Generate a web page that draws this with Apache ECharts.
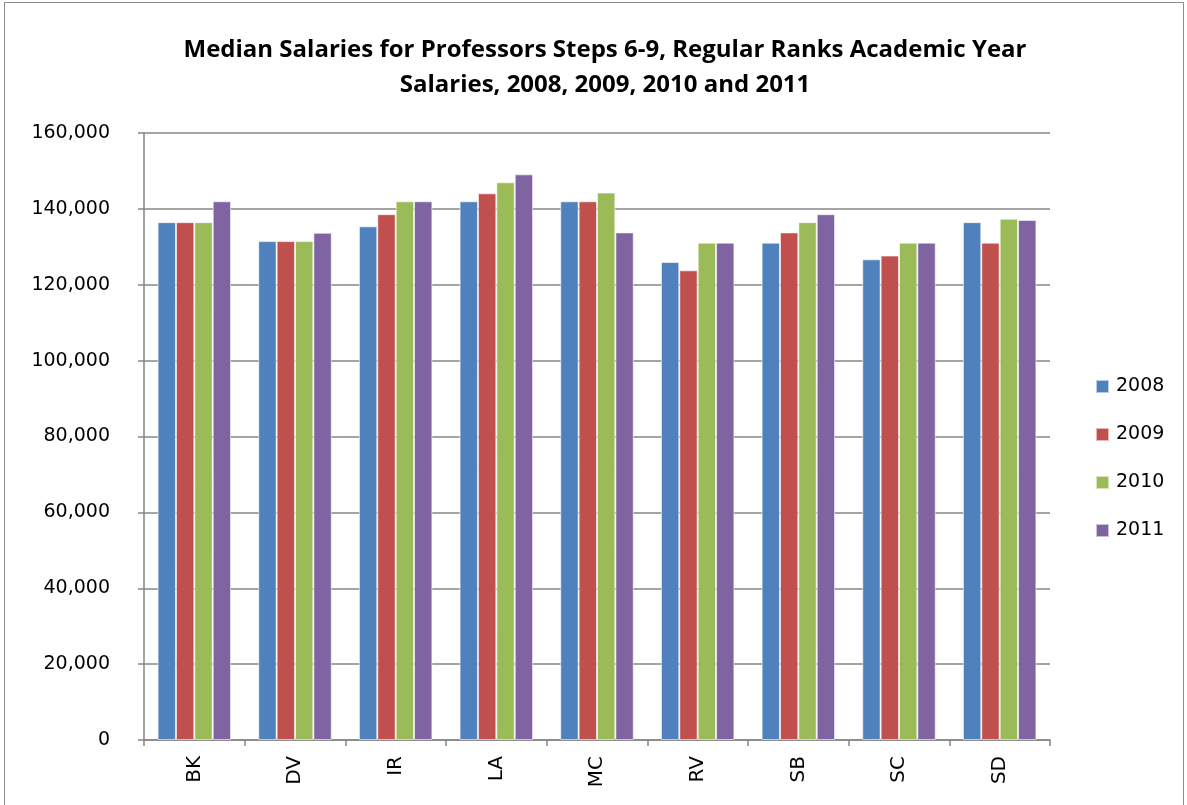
<!DOCTYPE html>
<html>
<head>
<meta charset="utf-8">
<script src="https://cdn.jsdelivr.net/npm/echarts@6/dist/echarts.min.js"></script>
<style>
	html, body { margin: 0; padding: 0; background: #fff; }
	#chart { position: absolute; left: 0; top: 0; width: 1187px; height: 805px; }
	#frame { position: absolute; left: 4px; top: 2px; width: 1180px; height: 810px; border: 1px solid #8c8c8c; box-sizing: border-box; }
</style>
</head>
<body>
<div id="frame"></div>
<div id="chart"></div>
<script>
	// campus codes on the x axis
	var campuses = ['BK', 'DV', 'IR', 'LA', 'MC', 'RV', 'SB', 'SC', 'SD']
	var years = ['2008', '2009', '2010', '2011']
	// median salaries
	var sal2008 = [136500, 131500, 135400, 142000, 142000, 126000, 131100, 126700, 136500]
	var sal2009 = [136500, 131500, 138600, 144100, 142000, 123800, 133800, 127700, 131100]
	var sal2010 = [136500, 131500, 142000, 147000, 144300, 131100, 136500, 131100, 137400]
	var sal2011 = [142000, 133700, 142000, 149100, 133800, 131100, 138600, 131100, 137100]

	var colors = ['#4F81BD', '#C0504D', '#9BBB59', '#8064A2']
	var allData = [sal2008, sal2009, sal2010, sal2011]

	var chart = echarts.init(document.getElementById('chart'))
	var option = {
		color: colors,
		animation: false,
		title: {
			text: 'Median Salaries for Professors Steps 6-9, Regular Ranks Academic Year\nSalaries, 2008, 2009, 2010 and 2011',
			left: 600,
			textAlign: 'center',
			top: 28,
			textStyle: {
				fontFamily: 'Open Sans',
				fontWeight: 'bold',
				fontSize: 24,
				lineHeight: 35,
				color: '#000'
			}
		},
		legend: {
			orient: 'vertical',
			left: 1090,
			top: 372,
			itemWidth: 13,
			itemHeight: 13,
			itemGap: 29,
			icon: 'rect',
			data: years,
			textStyle: {
				fontFamily: 'DejaVu Sans',
				fontSize: 19,
				color: '#000',
				padding: [0, 0, 0, 2]
			}
		},
		grid: {
			left: 144,
			right: 137,
			top: 133,
			bottom: 65,
			containLabel: false
		},
		xAxis: {
			type: 'category',
			data: campuses,
			axisLine: { lineStyle: { color: '#868686', width: 1.5 } },
			axisTick: { show: true, length: 6, lineStyle: { color: '#868686', width: 1.5 } },
			axisLabel: {
				rotate: 90,
				margin: 16,
				fontFamily: 'DejaVu Sans',
				fontSize: 20,
				color: '#000'
			}
		},
		yAxis: {
			type: 'value',
			min: 0,
			max: 160000,
			interval: 20000,
			axisLine: { show: true, lineStyle: { color: '#868686', width: 1.5 } },
			axisTick: { show: true, length: 6, lineStyle: { color: '#868686', width: 1.5 } },
			splitLine: { lineStyle: { color: '#868686', width: 1.5 } },
			axisLabel: {
				margin: 34,
				fontFamily: 'DejaVu Sans',
				fontSize: 19,
				color: '#000',
				formatter: function (v) {
					return v.toLocaleString('en-US')
				}
			}
		},
		series: years.map(function (y, i) {
			return {
				name: y,
				type: 'bar',
				data: allData[i],
				barGap: '0%',
				barCategoryGap: '27%',
				itemStyle: {
					borderColor: 'rgba(255,255,255,0.6)',
					borderWidth: 1
				}
			}
		})
	}
	chart.setOption(option)
</script>
</body>
</html>
